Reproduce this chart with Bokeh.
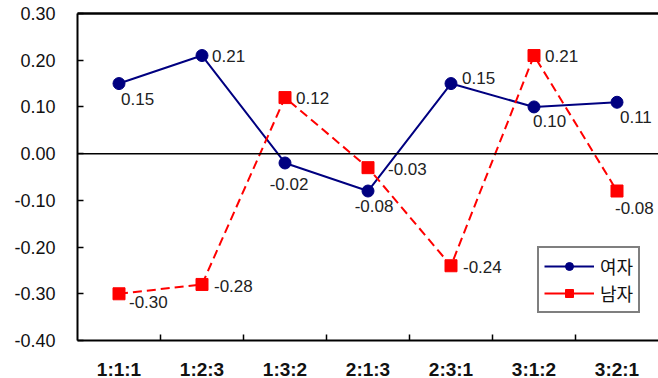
from bokeh.plotting import figure
from bokeh.models import (ColumnDataSource, FixedTicker, LinearAxis, Range1d, Span,
                          Legend, LegendItem, NumeralTickFormatter)
from bokeh.embed import file_html
from bokeh.resources import INLINE

# --- data ---
categories = ["1:1:1", "1:2:3", "1:3:2", "2:1:3", "2:3:1", "3:1:2", "3:2:1"]
female = [0.15, 0.21, -0.02, -0.08, 0.15, 0.10, 0.11]
male = [-0.30, -0.28, 0.12, -0.03, -0.24, 0.21, -0.08]
y_ticks = [-0.40, -0.30, -0.20, -0.10, 0.00, 0.10, 0.20, 0.30]

# value-label placement (screen px offsets from each marker, text alignment)
female_dx = [2, 10, 4, 6, 11, -1, 3]
female_dy = [15, 0, 21, 15, -6, 14, 15]
female_align = ["left", "left", "center", "center", "left", "left", "left"]
male_dx = [10, 12, 11, 20, 12, 11, -2]
male_dy = [8, 2, 0, 1, 1, 0, 17]
male_align = ["left"] * 7

xs = [i + 0.5 for i in range(len(categories))]

FONT = "Liberation Sans"
NAVY = "#000080"
RED = "#FF0000"

p = figure(frame_width=581, frame_height=327, output_backend="svg", toolbar_location=None,
           x_range=Range1d(0, len(categories)), y_range=Range1d(-0.40, 0.30),
           min_border_left=77, min_border_right=0, min_border_top=13,
           min_border_bottom=38, x_axis_type=None, y_axis_type=None)
p.outline_line_color = None
p.grid.visible = False
p.background_fill_color = "white"
p.border_fill_color = "white"

# left axis, ticks pointing inward
yaxis = LinearAxis(ticker=FixedTicker(ticks=y_ticks, minor_ticks=[]),
                   formatter=NumeralTickFormatter(format="0.00"))
yaxis.axis_line_width = 2
yaxis.major_tick_in = 6
yaxis.major_tick_out = 0
yaxis.major_tick_line_width = 1.5
yaxis.major_label_standoff = 22
yaxis.major_label_text_font = FONT
yaxis.major_label_text_font_size = "18px"
yaxis.major_label_text_color = "#111111"
p.add_layout(yaxis, "left")

# bottom axis: labels at category centres, ticks on category boundaries
xaxis = LinearAxis(ticker=FixedTicker(ticks=xs, minor_ticks=list(range(1, len(categories)))))
xaxis.major_label_overrides = {x: c for x, c in zip(xs, categories)}
xaxis.axis_line_width = 2
xaxis.major_tick_line_color = None
xaxis.major_tick_in = 0
xaxis.major_tick_out = 0
xaxis.minor_tick_in = 6
xaxis.minor_tick_out = 0
xaxis.minor_tick_line_width = 1.5
xaxis.minor_tick_line_color = "black"
xaxis.major_label_standoff = 18
xaxis.major_label_text_font = FONT
xaxis.major_label_text_font_style = "bold"
xaxis.major_label_text_font_size = "19px"
xaxis.major_label_text_color = "#111111"
p.add_layout(xaxis, "below")

# top border line
top = LinearAxis(ticker=FixedTicker(ticks=[], minor_ticks=[]))
top.axis_line_width = 2.5
top.major_tick_line_color = None
top.minor_tick_line_color = None
top.major_label_text_font_size = "0px"
top.major_label_standoff = 0
p.add_layout(top, "above")

# zero line
p.add_layout(Span(location=0, dimension="width", line_color="black", line_width=1.5))

src_f = ColumnDataSource(dict(x=xs, y=female, text=[f"{v:.2f}" for v in female],
                              dx=female_dx, dy=female_dy, align=female_align))
src_m = ColumnDataSource(dict(x=xs, y=male, text=[f"{v:.2f}" for v in male],
                              dx=male_dx, dy=male_dy, align=male_align))

lf = p.line("x", "y", source=src_f, line_color=NAVY, line_width=2)
sf = p.scatter("x", "y", source=src_f, marker="circle", size=12,
               fill_color=NAVY, line_color=NAVY)
lm = p.line("x", "y", source=src_m, line_color=RED, line_width=2, line_dash="9 5")
sm = p.scatter("x", "y", source=src_m, marker="square", size=12,
               fill_color=RED, line_color=RED)
# solid swatch for the legend key of the dashed series; hidden in the plot itself
lm_key = p.line("x", "y", source=src_m, line_color=RED, line_width=2, visible=False)

for src in (src_f, src_m):
    p.text("x", "y", text="text", source=src, x_offset="dx", y_offset="dy",
           text_align="align", text_baseline="middle", text_font_size="17px",
           text_font={"value": FONT}, text_color="#222222")

legend = Legend(items=[LegendItem(label="여자", renderers=[lf, sf]),
                       LegendItem(label="남자", renderers=[lm_key, sm])],
                location=(460, 27))
legend.label_text_font = "Liberation Sans, Noto Sans CJK KR"
legend.label_text_font_size = "18px"
legend.label_text_color = "#111111"
legend.border_line_color = "black"
legend.border_line_width = 2
legend.padding = 5
legend.spacing = 1
legend.margin = 0
legend.glyph_width = 50
legend.glyph_height = 20
legend.label_height = 20
legend.label_standoff = 6
legend.inactive_fill_alpha = 0
legend.background_fill_alpha = 1
p.add_layout(legend, "center")

open("out.html", "w").write(file_html(p, INLINE))
